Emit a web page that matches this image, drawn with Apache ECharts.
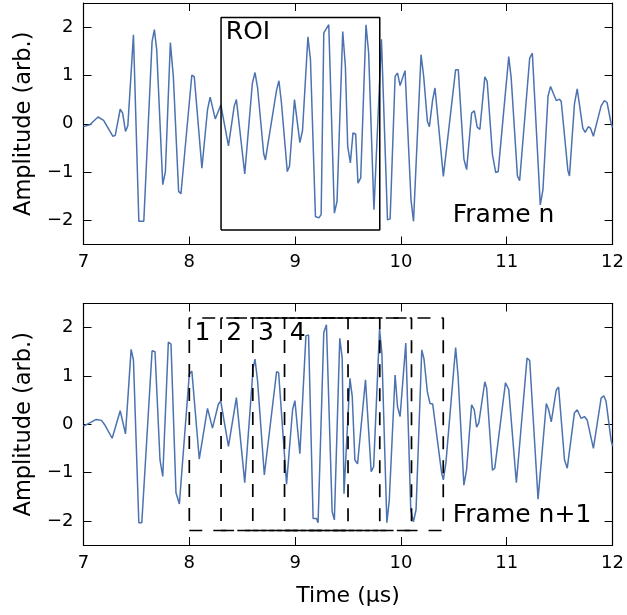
<!DOCTYPE html>
<html>
<head>
<meta charset="utf-8">
<script src="https://cdn.jsdelivr.net/npm/echarts@6/dist/echarts.min.js"></script>
<style>html,body{margin:0;padding:0;background:#fff;}#c{width:627px;height:615px;}</style>
</head>
<body>
<div id="c"></div>
<script>
// ---- data ----
const xTicks = [7, 8, 9, 10, 11, 12];
const yTicks = [-2, -1, 0, 1, 2];

const topTime = [7.000,7.060,7.137,7.190,7.278,7.300,7.347,7.370,7.397,7.419,7.472,7.523,7.570,7.648,7.670,7.692,7.749,7.774,7.821,7.849,7.899,7.921,8.024,8.047,8.119,8.172,8.197,8.245,8.298,8.370,8.424,8.445,8.524,8.596,8.621,8.645,8.703,8.719,8.825,8.847,8.870,8.926,8.947,8.994,9.045,9.070,9.121,9.145,9.192,9.224,9.246,9.271,9.318,9.371,9.396,9.450,9.475,9.497,9.522,9.547,9.572,9.594,9.620,9.670,9.695,9.745,9.816,9.873,9.898,9.945,9.968,9.992,10.039,10.095,10.119,10.190,10.215,10.250,10.269,10.300,10.322,10.401,10.416,10.517,10.542,10.595,10.621,10.668,10.693,10.721,10.746,10.793,10.815,10.865,10.896,10.919,11.019,11.042,11.101,11.122,11.217,11.242,11.317,11.342,11.390,11.414,11.468,11.499,11.515,11.578,11.593,11.640,11.666,11.719,11.741,11.772,11.791,11.819,11.835,11.892,11.923,11.948,11.986,12.000];
const topAmp  = [-0.06,-0.02,0.14,0.07,-0.26,-0.24,0.30,0.22,-0.16,-0.04,1.84,-2.02,-2.02,1.70,1.95,1.53,-1.26,-0.99,1.68,0.98,-1.40,-1.45,1.01,0.97,-0.92,0.29,0.55,0.10,0.39,-0.46,0.36,0.50,-1.04,0.84,1.06,0.75,-0.62,-0.75,0.70,0.89,0.45,-0.99,-0.88,0.50,-0.39,-0.14,1.80,1.33,-1.92,-1.95,-1.88,1.88,2.05,-1.85,-1.61,1.91,1.19,-0.47,-0.81,-0.19,-0.21,-1.23,-1.12,2.05,1.46,-1.78,1.75,-1.99,-1.97,0.98,1.05,0.79,1.10,-1.57,-2.02,1.43,0.98,0.05,-0.06,0.50,0.74,-1.09,-1.06,1.12,1.12,-0.73,-0.95,0.22,0.27,-0.07,-0.12,0.97,0.88,-0.64,-1.01,-0.99,1.39,0.95,-1.08,-1.18,1.36,1.46,-1.68,-1.37,0.57,0.77,0.48,0.51,0.46,-0.97,-1.08,0.41,0.72,-0.09,-0.18,-0.06,-0.09,-0.26,-0.25,0.37,0.48,0.44,0.01,-0.08];

const botTime = [7.000,7.060,7.120,7.170,7.200,7.271,7.347,7.397,7.450,7.472,7.523,7.551,7.648,7.676,7.723,7.749,7.802,7.827,7.874,7.906,8.000,8.024,8.094,8.172,8.219,8.275,8.297,8.370,8.445,8.524,8.603,8.621,8.645,8.709,8.725,8.825,8.844,8.919,8.976,8.998,9.045,9.102,9.127,9.170,9.201,9.217,9.271,9.296,9.350,9.371,9.422,9.445,9.462,9.518,9.540,9.565,9.590,9.665,9.719,9.742,9.798,9.820,9.867,9.890,9.945,9.968,9.992,10.046,10.093,10.118,10.143,10.197,10.218,10.250,10.275,10.300,10.385,10.401,10.425,10.517,10.540,10.595,10.620,10.668,10.693,10.715,10.736,10.793,10.810,10.865,10.887,10.988,11.019,11.091,11.192,11.217,11.296,11.374,11.396,11.421,11.468,11.490,11.546,11.572,11.640,11.666,11.703,11.734,11.760,11.819,11.892,11.918,11.939,11.986,12.000];
const botAmp  = [-0.04,0.03,0.10,0.08,-0.01,-0.29,0.28,-0.20,1.55,1.33,-2.04,-2.04,1.52,1.50,-0.74,-1.08,1.70,1.66,-1.42,-1.65,1.04,1.10,-0.72,0.33,-0.08,0.42,0.48,-0.46,0.55,-1.21,1.16,1.35,0.90,-1.05,-1.07,1.09,1.07,-1.24,0.30,0.49,-0.61,1.83,1.85,-1.95,-1.95,-2.04,1.90,2.06,-1.81,-1.98,1.78,1.37,-1.44,0.95,0.57,-0.74,-0.82,0.92,-0.98,-0.88,1.97,1.47,-2.04,-1.57,1.02,0.36,0.16,1.68,-1.77,-2.02,-1.77,1.54,1.35,0.67,0.43,0.42,-1.01,-1.15,-0.80,1.59,1.00,-1.26,-0.95,0.40,0.30,-0.06,0.03,0.88,0.75,-0.95,-0.91,0.86,0.72,-1.21,1.37,1.32,-1.55,0.43,0.30,0.05,0.71,0.77,-0.74,-0.91,0.24,0.30,0.12,0.16,0.09,-0.50,0.54,0.59,0.47,-0.33,-0.45];

// ROI window (top) and sliding windows (bottom)
const roiStart = 8.3;
const roiWidth = 1.5;
const roiLow = -2.2;
const roiHigh = 2.2;
const windowStarts = [8.0, 8.3, 8.6, 8.9];
const windowLabels = ['1', '2', '3', '4'];

// text annotations (data coords)
const roiLabel = {text: 'ROI', t: 8.345, a: 1.89};
const frameLabels = [{text: 'Frame n', t: 10.49, a: -1.9}, {text: 'Frame n+1', t: 10.49, a: -1.89}];
const windowLabelOffset = 0.125;
const windowLabelAmp = 1.87;

// ---- chart ----
const FONT = 'DejaVu Sans';
const LINE = '#4c72b0';
const zip = (a, b) => a.map((v, i) => [v, b[i]]);
const rect = (x0, w, lo, hi) => [[x0, lo], [x0 + w, lo], [x0 + w, hi], [x0, hi], [x0, lo]];
const minus = v => (v < 0 ? '\u2212' + (-v) : String(v));

const grids = [
  {left: 83.5, top: 3, width: 530.5, height: 241.5},
  {left: 83.5, top: 303.5, width: 530.5, height: 241.5}
];

function xAxes(gi, withName) {
  const base = {
    type: 'value', gridIndex: gi, min: 7, max: 12, interval: 1,
    axisLine: {show: true, onZero: false, lineStyle: {color: '#000', width: 1.2}},
    axisTick: {show: true, inside: true, length: 8, customValues: xTicks, lineStyle: {color: '#000', width: 1}},
    splitLine: {show: false}
  };
  return [
    Object.assign({}, base, {
      position: 'bottom',
      axisLabel: {show: true, color: '#000', fontFamily: FONT, fontSize: 18, margin: 9, customValues: xTicks},
      name: withName ? 'Time (\u00b5s)' : '',
      nameLocation: 'middle', nameGap: 40,
      nameTextStyle: {color: '#000', fontFamily: FONT, fontSize: 22}
    }),
    Object.assign({}, base, {position: 'top', axisLabel: {show: false}})
  ];
}
function yAxes(gi) {
  const base = {
    type: 'value', gridIndex: gi, min: -2.5, max: 2.5,
    axisLine: {show: true, onZero: false, lineStyle: {color: '#000', width: 1.2}},
    axisTick: {show: true, inside: true, length: 8, customValues: yTicks, lineStyle: {color: '#000', width: 1}},
    splitLine: {show: false}
  };
  return [
    Object.assign({}, base, {
      position: 'left',
      axisLabel: {show: true, color: '#000', fontFamily: FONT, fontSize: 18, margin: 10, customValues: yTicks, formatter: minus},
      name: 'Amplitude (arb.)', nameLocation: 'middle', nameGap: 46, nameRotate: 90,
      nameTextStyle: {color: '#000', fontFamily: FONT, fontSize: 22.5}
    }),
    Object.assign({}, base, {position: 'right', axisLabel: {show: false}})
  ];
}

const xAxis = [].concat(xAxes(0, false), xAxes(1, true));
const yAxis = [].concat(yAxes(0), yAxes(1));

function textSeries(xi, yi, items, align) {
  return {
    type: 'scatter', xAxisIndex: xi, yAxisIndex: yi, symbolSize: 0, silent: true, z: 5,
    itemStyle: {opacity: 1},
    data: items.map(it => ({
      value: [it.t, it.a],
      label: {show: true, position: 'inside', formatter: it.text, color: '#000', opacity: 1,
        fontFamily: FONT, fontSize: 25, align: align, verticalAlign: 'middle'}
    }))
  };
}

const series = [
  {type: 'line', xAxisIndex: 0, yAxisIndex: 0, data: zip(topTime, topAmp), showSymbol: false,
   lineStyle: {color: LINE, width: 1.5}, z: 3},
  {type: 'line', xAxisIndex: 2, yAxisIndex: 2, data: zip(botTime, botAmp), showSymbol: false,
   lineStyle: {color: LINE, width: 1.5}, z: 3},
  {type: 'line', xAxisIndex: 0, yAxisIndex: 0, data: rect(roiStart, roiWidth, roiLow, roiHigh),
   showSymbol: false, lineStyle: {color: '#000', width: 1.5}, z: 4}
];
windowStarts.forEach(s => {
  series.push({type: 'line', xAxisIndex: 2, yAxisIndex: 2, data: rect(s, roiWidth, roiLow, roiHigh),
    showSymbol: false, lineStyle: {color: '#000', width: 1.7, type: [13, 11]}, z: 4});
});
series.push(textSeries(0, 0, [roiLabel], 'left'));
series.push(textSeries(0, 0, [frameLabels[0]], 'left'));
series.push(textSeries(2, 2, [frameLabels[1]], 'left'));
series.push(textSeries(2, 2, windowStarts.map((s, i) => ({text: windowLabels[i], t: s + windowLabelOffset, a: windowLabelAmp})), 'center'));

const chart = echarts.init(document.getElementById('c'), null, {renderer: 'canvas'});
chart.setOption({
  animation: false,
  backgroundColor: '#fff',
  grid: grids,
  xAxis: xAxis,
  yAxis: yAxis,
  series: series
});
</script>
</body>
</html>
